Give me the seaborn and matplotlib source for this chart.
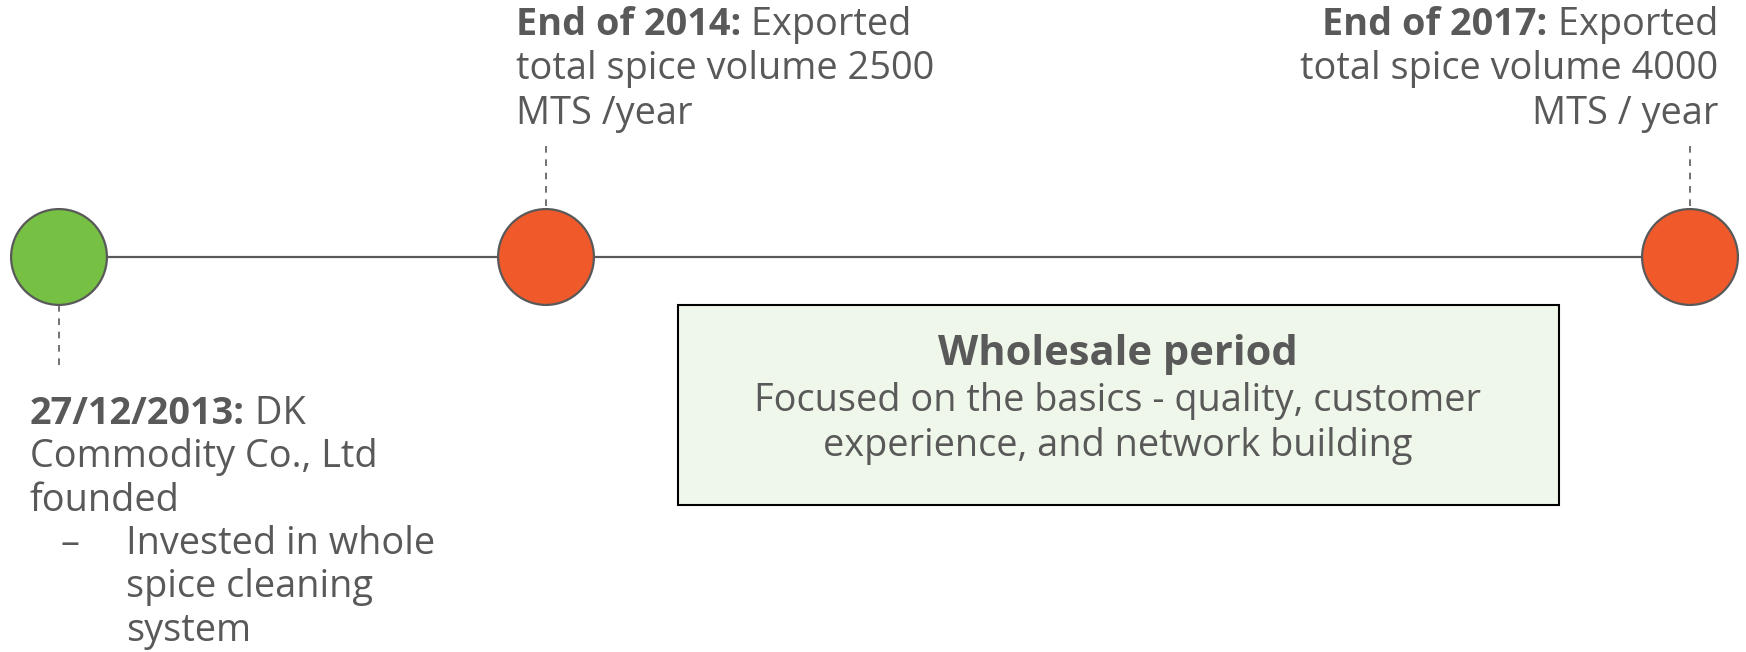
import matplotlib
matplotlib.use("Agg")
import numpy as np
import pandas as pd
import seaborn as sns
import matplotlib.pyplot as plt
from matplotlib.patches import Rectangle

# timeline data
event_dates = ["27/12/2013", "End of 2014", "End of 2017"]
event_type = ["founded", "export", "export"]
event_heads = ["27/12/2013:", "End of 2014:", "End of 2017:"]
event_first = [" DK", " Exported", " Exported"]
event_rest = [["Commodity Co., Ltd", "founded"],
              ["total spice volume 2500", "MTS /year"],
              ["total spice volume 4000", "MTS / year"]]
bullet_lines = ["Invested in whole", "spice cleaning", "system"]

period_title = "Wholesale period"
period_lines = ["Focused on the basics - quality, customer",
                "experience, and network building"]

# layout in pixels of the 1746x652 canvas
event_x = [59, 546, 1690]
line_y = 257

txt_col = "#595959"
green = "#76c043"
orange = "#f05a2a"

sns.set_theme(style="white")
plt.rcParams['font.family'] = ['Open Sans', 'DejaVu Sans']

fig = plt.figure(figsize=(17.46, 6.52), dpi=100)
ax = fig.add_axes([0, 0, 1, 1])

df = pd.DataFrame({"x": event_x, "y": [line_y] * len(event_x), "type": event_type})

# main line + circles
sns.lineplot(data=df, x="x", y="y", color=txt_col, lw=1.6, ax=ax, zorder=1)
sns.scatterplot(data=df, x="x", y="y", hue="type",
                palette={"founded": green, "export": orange},
                s=69**2, edgecolor=txt_col, linewidth=1.6, legend=False,
                ax=ax, zorder=3)
ax.set_xlim(0, 1746)
ax.set_ylim(652, 0)
ax.axis("off")

# dashed connectors
ax.plot([event_x[0], event_x[0]], [305, 367], color=txt_col, lw=1.2, ls=(0, (4, 4)))
ax.plot([event_x[1], event_x[1]], [146, 208], color=txt_col, lw=1.2, ls=(0, (4, 4)))
ax.plot([event_x[2], event_x[2]], [146, 208], color=txt_col, lw=1.2, ls=(0, (4, 4)))

fig.canvas.draw()
rend = fig.canvas.get_renderer()
fs = 27.3
lh = 44.5


def head_line(x, y, head, tail, ha):
    if ha == "left":
        t1 = ax.text(x, y, head, weight="bold", ha="left", va="baseline",
                     fontsize=fs, color=txt_col)
        w = t1.get_window_extent(rend).width
        ax.text(x + w, y, tail, ha="left", va="baseline", fontsize=fs, color=txt_col)
    else:
        t2 = ax.text(x, y, tail, ha="right", va="baseline", fontsize=fs, color=txt_col)
        w = t2.get_window_extent(rend).width
        ax.text(x - w, y, head, weight="bold", ha="right", va="baseline",
                fontsize=fs, color=txt_col)


# 2013 (slightly tighter spacing so the last line fits)
y0 = 424
lh0 = 43.3
head_line(30, y0, event_heads[0], event_first[0], "left")
for i, s in enumerate(event_rest[0]):
    ax.text(30, y0 + lh0 * (i + 1), s, ha="left", va="baseline", fontsize=fs, color=txt_col)
for i, s in enumerate(bullet_lines):
    yy = y0 + lh0 * (i + 3)
    if i == 0:
        ax.text(60, yy, "–", ha="left", va="baseline", fontsize=fs, color=txt_col)
    ax.text(126, yy, s, ha="left", va="baseline", fontsize=fs, color=txt_col)

# 2014
head_line(516, 35, event_heads[1], event_first[1], "left")
for i, s in enumerate(event_rest[1]):
    ax.text(516, 35 + lh * (i + 1), s, ha="left", va="baseline", fontsize=fs, color=txt_col)

# 2017
head_line(1718, 35, event_heads[2], event_first[2], "right")
for i, s in enumerate(event_rest[2]):
    ax.text(1718, 35 + lh * (i + 1), s, ha="right", va="baseline", fontsize=fs, color=txt_col)

# period box
ax.add_patch(Rectangle((678, 305), 881, 200, facecolor="#eff7ea",
                       edgecolor="black", lw=1.5, zorder=2))
ax.text(1118, 365, period_title, weight="bold", ha="center", va="baseline",
        fontsize=30, color=txt_col, zorder=4)
ax.text(1118, 411, period_lines[0], ha="center", va="baseline", fontsize=fs,
        color=txt_col, zorder=4)
ax.text(1118, 456, period_lines[1], ha="center", va="baseline", fontsize=fs,
        color=txt_col, zorder=4)

fig.savefig("out.png", dpi=100, facecolor="white")
